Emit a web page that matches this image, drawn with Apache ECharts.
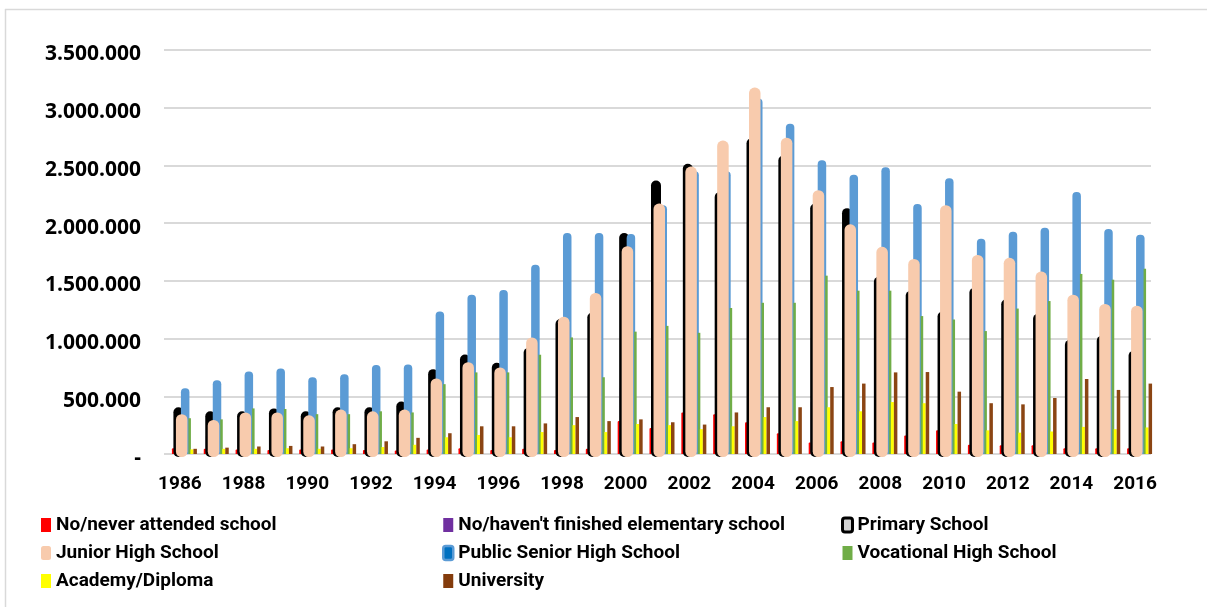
<!DOCTYPE html>
<html>
<head>
<meta charset="utf-8">
<script src="https://cdn.jsdelivr.net/npm/echarts@6/dist/echarts.min.js"></script>
<style>
  html, body { margin: 0; padding: 0; background: #fff; }
  #chart { width: 1207px; height: 607px; }
</style>
</head>
<body>
<div id="chart"></div>
<script>
// years on the x axis
var years = [];
for (var y = 1986; y <= 2016; y++) years.push(String(y));

// values (persons)
var neverAttended = [50000, 45000, 40000, 35000, 40000, 40000, 35000, 30000, 40000, 50000, 35000, 45000, 35000, 45000, 285000, 225000, 360000, 345000, 275000, 180000, 100000, 110000, 100000, 160000, 205000, 80000, 75000, 75000, 50000, 50000, 50000];
var notFinishedElem = [150000, 155000, 150000, 150000, 150000, 155000, 160000, 165000, 165000, 170000, 215000, 230000, 250000, 200000, 575000, 665000, 707000, 675000, 680000, 620000, 450000, 450000, 550000, 595000, 720000, 495000, 485000, 380000, 345000, 370000, 395000];
var primary = [405000, 370000, 370000, 395000, 370000, 405000, 405000, 455000, 735000, 862000, 790000, 920000, 1170000, 1225000, 1915000, 2370000, 2515000, 2270000, 2735000, 2585000, 2170000, 2130000, 1535000, 1415000, 1235000, 1440000, 1340000, 1215000, 990000, 1025000, 895000];
var juniorHigh = [345000, 295000, 360000, 360000, 335000, 385000, 370000, 385000, 655000, 795000, 750000, 1010000, 1190000, 1395000, 1800000, 2170000, 2490000, 2715000, 3175000, 2740000, 2285000, 1990000, 1795000, 1690000, 2155000, 1725000, 1700000, 1580000, 1380000, 1300000, 1285000];
var publicSenior = [570000, 640000, 715000, 740000, 665000, 690000, 770000, 775000, 1235000, 1380000, 1420000, 1640000, 1915000, 1915000, 1905000, 2155000, 2450000, 2450000, 3080000, 2860000, 2545000, 2420000, 2485000, 2165000, 2390000, 1865000, 1925000, 1960000, 2270000, 1950000, 1900000];
var vocational = [310000, 300000, 395000, 390000, 345000, 345000, 370000, 360000, 605000, 707000, 707000, 860000, 1010000, 665000, 1060000, 1110000, 1050000, 1265000, 1310000, 1310000, 1545000, 1415000, 1415000, 1195000, 1165000, 1065000, 1260000, 1325000, 1560000, 1510000, 1605000];
var academy = [40000, 45000, 45000, 50000, 45000, 50000, 60000, 80000, 145000, 165000, 145000, 190000, 250000, 190000, 260000, 250000, 215000, 240000, 320000, 285000, 405000, 370000, 450000, 440000, 260000, 205000, 185000, 195000, 235000, 215000, 230000];
var university = [45000, 55000, 65000, 70000, 65000, 85000, 110000, 140000, 180000, 240000, 240000, 265000, 320000, 285000, 300000, 275000, 255000, 360000, 405000, 405000, 580000, 610000, 707000, 710000, 540000, 440000, 430000, 485000, 650000, 555000, 610000];

var names = ['No/never attended school', "No/haven't finished elementary school", 'Primary School',
  'Junior High School', 'Public Senior High School', 'Vocational High School', 'Academy/Diploma', 'University'];

// offset from the category centre, width, fill, top radius, bottom overhang
function barShape(off, w, fill, r, under) {
  return function (params, api) {
    var base = api.coord([api.value(0), 0]);
    var top = api.coord([api.value(0), api.value(1)]);
    var h = base[1] - top[1] + under;
    return {
      type: 'rect',
      shape: { x: base[0] + off, y: top[1], width: w, height: h, r: [r, r, under ? r : 0, under ? r : 0] },
      style: { fill: fill }
    };
  };
}

function toPairs(arr) {
  return arr.map(function (v, i) { return [i, v]; });
}

function series(name, arr, color, render, z) {
  return {
    name: name,
    type: 'custom',
    z: z,
    itemStyle: { color: color },
    encode: { x: 0, y: 1 },
    data: toPairs(arr),
    renderItem: render
  };
}

var chart = echarts.init(document.getElementById('chart'));

var legendText = { fontFamily: 'Roboto', fontWeight: 'bold', fontSize: 19, color: '#000', lineHeight: 20 };
function legendCol(left, items) {
  return {
    left: left, top: 510, orient: 'vertical', itemGap: 8,
    itemWidth: 10, itemHeight: 14, itemStyle: { borderWidth: 0 },
    selectedMode: false, textStyle: legendText, data: items
  };
}

chart.setOption({
  animation: false,
  backgroundColor: '#fff',
  graphic: [
    { type: 'line', shape: { x1: 5.5, y1: 9, x2: 5.5, y2: 607 }, style: { stroke: '#d9d9d9', lineWidth: 1.5 } },
    { type: 'line', shape: { x1: 5, y1: 9.5, x2: 1207, y2: 9.5 }, style: { stroke: '#d9d9d9', lineWidth: 1.5 } }
  ],
  legend: [
    legendCol(36, [
      { name: names[0], icon: 'rect' },
      { name: names[3], icon: 'roundRect', itemStyle: { color: '#F8CBAD' } },
      { name: names[6], icon: 'rect' }
    ]),
    legendCol(437, [
      { name: names[1], icon: 'rect' },
      { name: names[4], icon: 'roundRect', itemStyle: { color: '#0070C0', borderColor: '#5B9BD5', borderWidth: 2.5 } },
      { name: names[7], icon: 'rect' }
    ]),
    legendCol(836, [
      { name: names[2], icon: 'roundRect', itemStyle: { color: '#d0d0d0', borderColor: '#000', borderWidth: 3 } },
      { name: names[5], icon: 'rect' }
    ])
  ],
  grid: { left: 164, right: 56, top: 50, bottom: 153, containLabel: false },
  xAxis: {
    type: 'category',
    data: years,
    boundaryGap: true,
    axisLine: { show: false },
    axisTick: { show: false },
    axisLabel: {
      interval: 1, margin: 21,
      fontFamily: 'Roboto', fontWeight: 'bold', fontSize: 19, color: '#000'
    }
  },
  yAxis: {
    type: 'value',
    min: 0, max: 3500000, interval: 500000,
    axisLine: { show: false },
    axisTick: { show: false },
    splitLine: { lineStyle: { color: '#d9d9d9', width: 2 } },
    axisLabel: {
      margin: 23,
      color: '#000',
      rich: {
        v: { fontFamily: 'Open Sans', fontWeight: 'bold', fontSize: 21, color: '#000', padding: [9, 0, 0, 0] }
      },
      formatter: function (v) {
        if (v === 0) return '{v|-}';
        return '{v|' + String(v).replace(/\B(?=(\d{3})+(?!\d))/g, '.') + '}';
      }
    }
  },
  series: [
    series(names[0], neverAttended, '#FF0000', barShape(-8, 4, '#FF0000', 1, 0), 2),
    series(names[1], notFinishedElem, '#7030A0', barShape(-6, 1.5, '#b9a3cf', 0, 0), 2),
    series(names[2], primary, '#000000', barShape(-6.5, 10, '#000000', 5, 3), 3),
    series(names[4], publicSenior, '#5B9BD5', barShape(1, 8.5, '#5B9BD5', 4, 0), 4),
    series(names[3], juniorHigh, '#F8CBAD', barShape(-4, 11.5, '#F8CBAD', 5.5, 3), 5),
    series(names[5], vocational, '#70AD47', barShape(8.5, 2.5, '#70AD47', 0, 0), 6),
    series(names[6], academy, '#FFFF00', barShape(10.5, 3, '#FFFF00', 0, 0), 7),
    series(names[7], university, '#843C0C', barShape(13.5, 3.5, '#8B4513', 0, 0), 7)
  ]
});
</script>
</body>
</html>
